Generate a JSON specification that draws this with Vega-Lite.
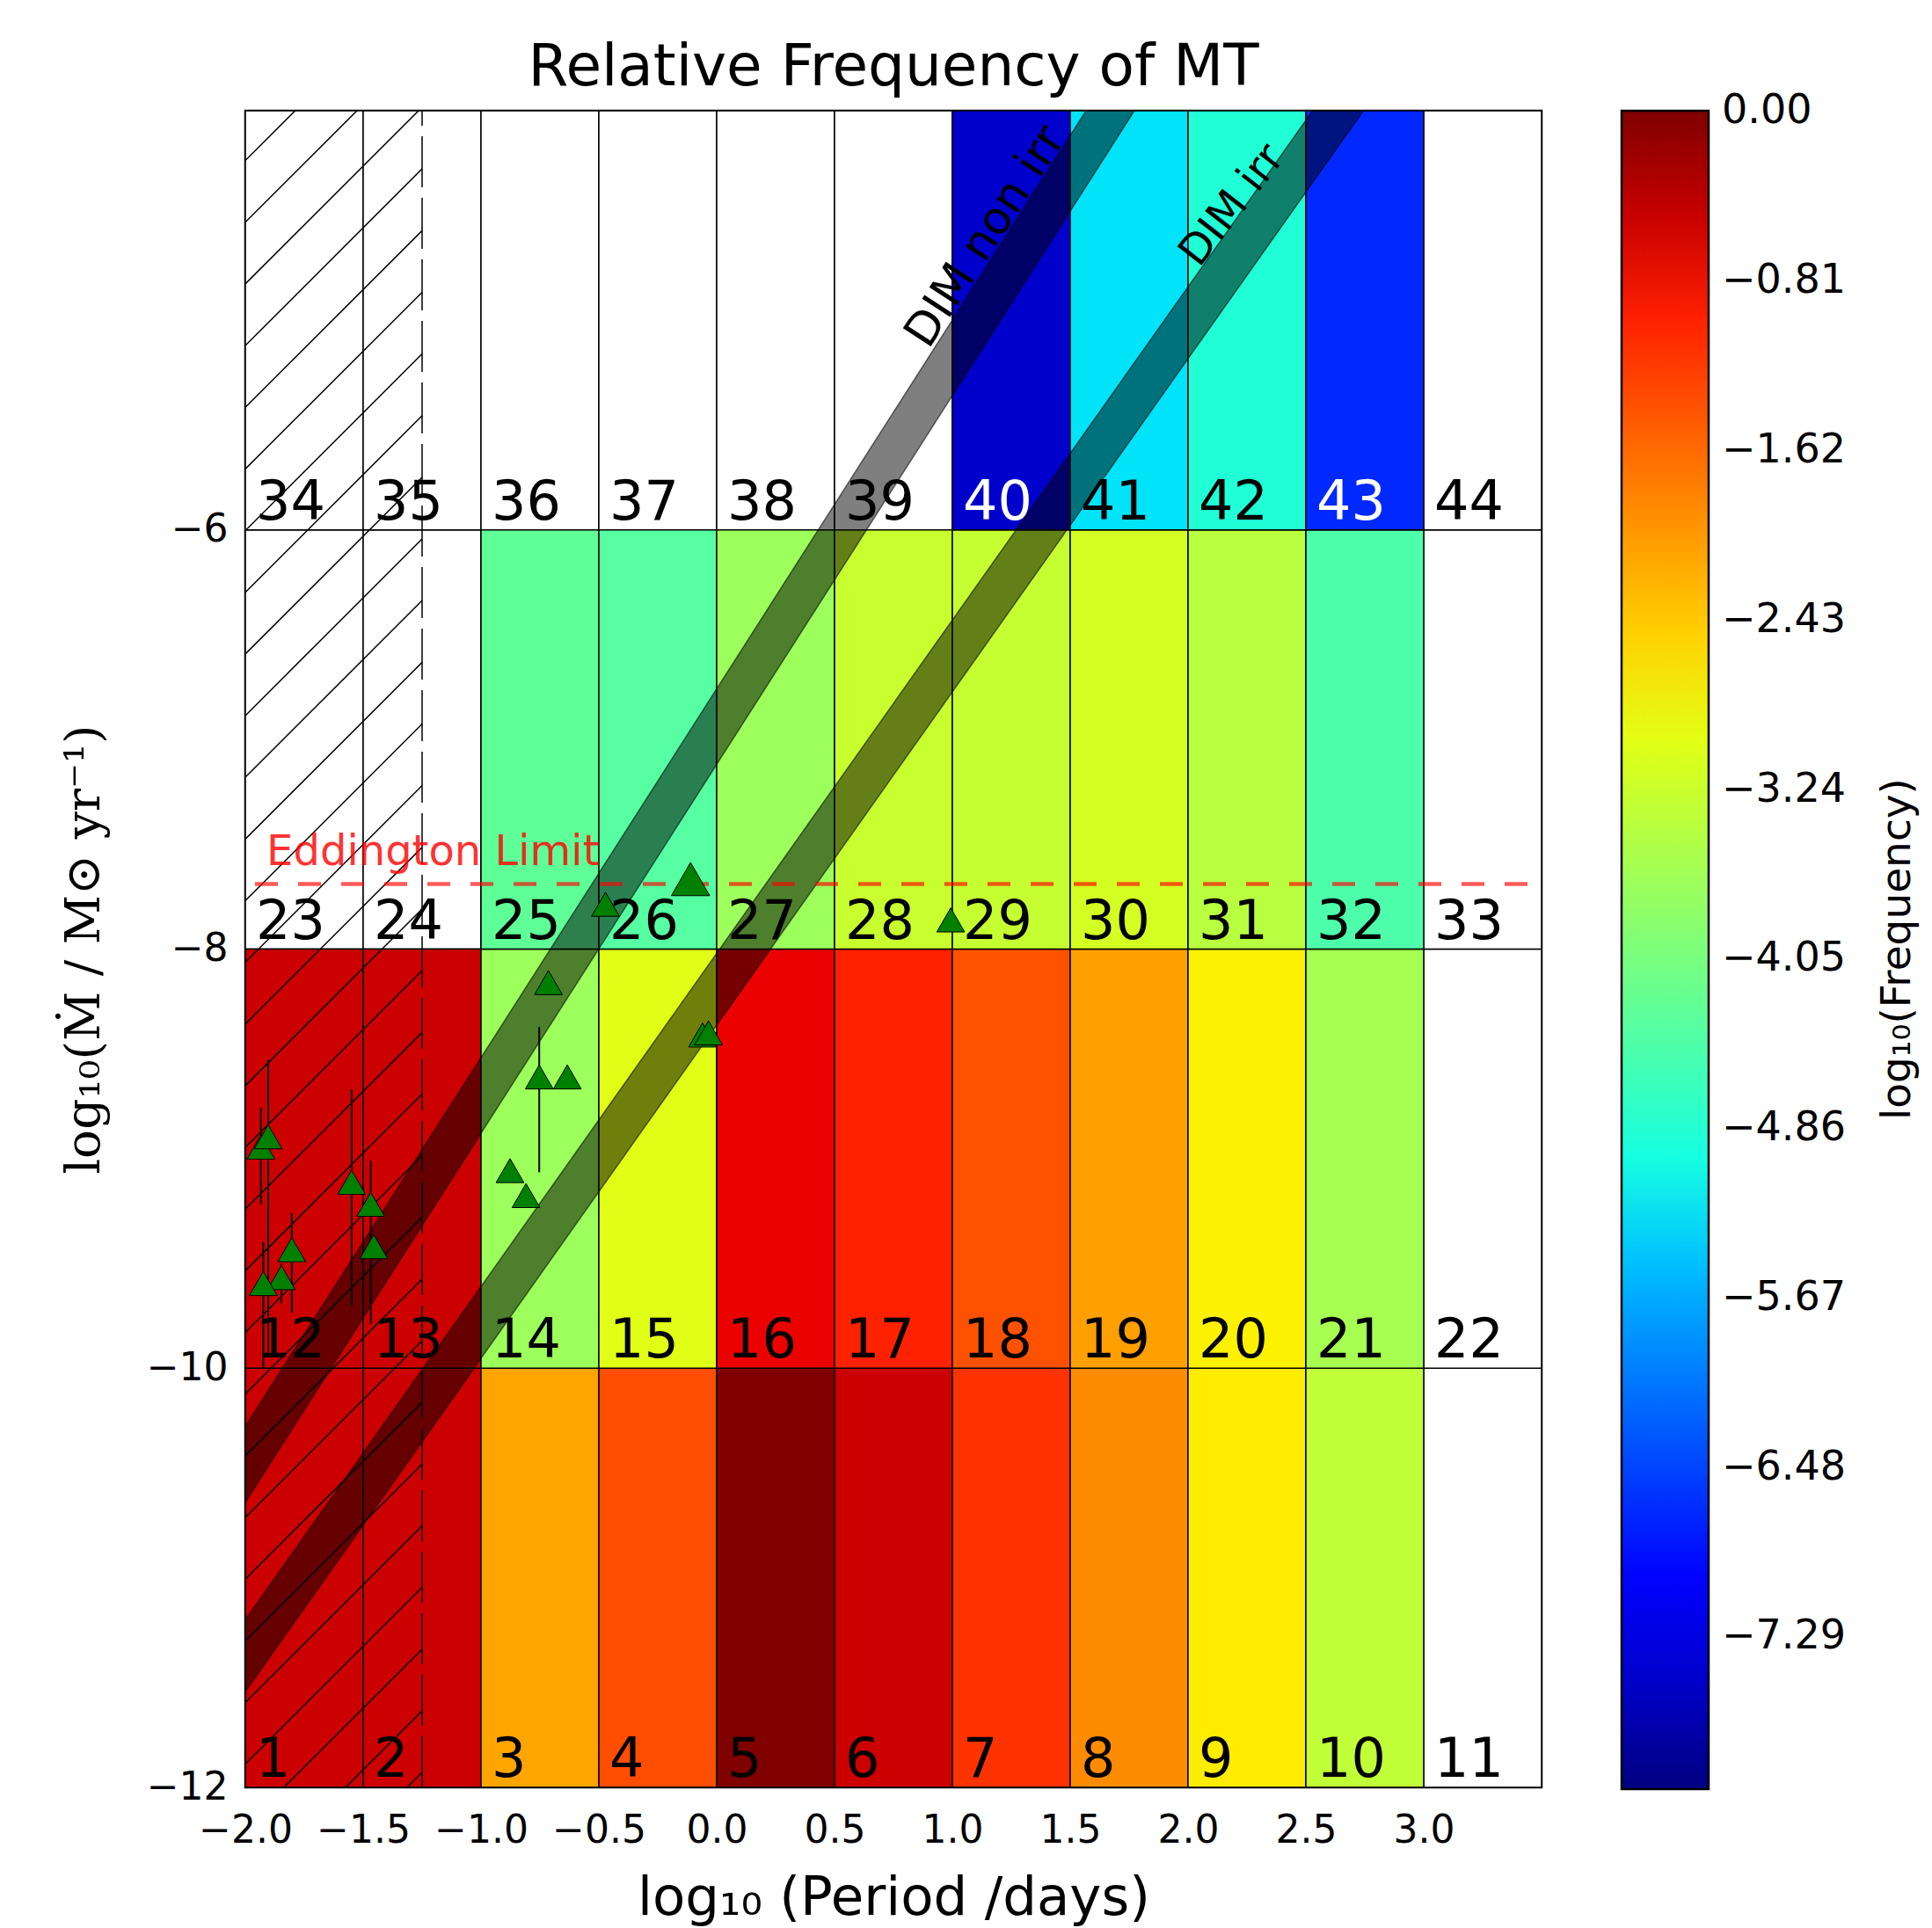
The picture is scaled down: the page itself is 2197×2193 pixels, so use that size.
{
  "$schema": "https://vega.github.io/schema/vega-lite/v6.json",
  "width": 1474,
  "height": 1907,
  "autosize": {"type": "none"},
  "padding": {"left": 279, "top": 126, "right": 444, "bottom": 160},
  "background": "white",
  "config": {
    "view": {"stroke": "black", "strokeWidth": 2.5},
    "font": "DejaVu Sans"
  },
  "title": {
    "text": "Relative Frequency of MT",
    "fontSize": 66,
    "fontWeight": "normal",
    "font": "DejaVu Sans",
    "color": "black",
    "anchor": "middle",
    "frame": "group",
    "baseline": "alphabetic",
    "offset": -38
  },
  "datasets": {
    "cells": [
      {"id": 1, "x": -2.0, "x2": -1.5, "y": -12, "y2": -10, "v": -0.53},
      {"id": 2, "x": -1.5, "x2": -1.0, "y": -12, "y2": -10, "v": -0.53},
      {"id": 3, "x": -1.0, "x2": -0.5, "y": -12, "y2": -10, "v": -2.125},
      {"id": 4, "x": -0.5, "x2": 0.0, "y": -12, "y2": -10, "v": -1.38},
      {"id": 5, "x": 0.0, "x2": 0.5, "y": -12, "y2": -10, "v": 0.0},
      {"id": 6, "x": 0.5, "x2": 1.0, "y": -12, "y2": -10, "v": -0.53},
      {"id": 7, "x": 1.0, "x2": 1.5, "y": -12, "y2": -10, "v": -1.155},
      {"id": 8, "x": 1.5, "x2": 2.0, "y": -12, "y2": -10, "v": -1.913},
      {"id": 9, "x": 2.0, "x2": 2.5, "y": -12, "y2": -10, "v": -2.73},
      {"id": 10, "x": 2.5, "x2": 3.0, "y": -12, "y2": -10, "v": -3.35},
      {"id": 11, "x": 3.0, "x2": 3.5, "y": -12, "y2": -10, "v": null},
      {"id": 12, "x": -2.0, "x2": -1.5, "y": -10, "y2": -8, "v": -0.53},
      {"id": 13, "x": -1.5, "x2": -1.0, "y": -10, "y2": -8, "v": -0.53},
      {"id": 14, "x": -1.0, "x2": -0.5, "y": -10, "y2": -8, "v": -3.70},
      {"id": 15, "x": -0.5, "x2": 0.0, "y": -10, "y2": -8, "v": -3.02},
      {"id": 16, "x": 0.0, "x2": 0.5, "y": -10, "y2": -8, "v": -0.74},
      {"id": 17, "x": 0.5, "x2": 1.0, "y": -10, "y2": -8, "v": -1.00},
      {"id": 18, "x": 1.0, "x2": 1.5, "y": -10, "y2": -8, "v": -1.42},
      {"id": 19, "x": 1.5, "x2": 2.0, "y": -10, "y2": -8, "v": -2.085},
      {"id": 20, "x": 2.0, "x2": 2.5, "y": -10, "y2": -8, "v": -2.77},
      {"id": 21, "x": 2.5, "x2": 3.0, "y": -10, "y2": -8, "v": -3.60},
      {"id": 22, "x": 3.0, "x2": 3.5, "y": -10, "y2": -8, "v": null},
      {"id": 23, "x": -2.0, "x2": -1.5, "y": -8, "y2": -6, "v": null},
      {"id": 24, "x": -1.5, "x2": -1.0, "y": -8, "y2": -6, "v": null},
      {"id": 25, "x": -1.0, "x2": -0.5, "y": -8, "y2": -6, "v": -4.29},
      {"id": 26, "x": -0.5, "x2": 0.0, "y": -8, "y2": -6, "v": -4.39},
      {"id": 27, "x": 0.0, "x2": 0.5, "y": -8, "y2": -6, "v": -3.70},
      {"id": 28, "x": 0.5, "x2": 1.0, "y": -8, "y2": -6, "v": -3.27},
      {"id": 29, "x": 1.0, "x2": 1.5, "y": -8, "y2": -6, "v": -3.29},
      {"id": 30, "x": 1.5, "x2": 2.0, "y": -8, "y2": -6, "v": -3.15},
      {"id": 31, "x": 2.0, "x2": 2.5, "y": -8, "y2": -6, "v": -3.42},
      {"id": 32, "x": 2.5, "x2": 3.0, "y": -8, "y2": -6, "v": -4.47},
      {"id": 33, "x": 3.0, "x2": 3.5, "y": -8, "y2": -6, "v": null},
      {"id": 34, "x": -2.0, "x2": -1.5, "y": -6, "y2": -4, "v": null},
      {"id": 35, "x": -1.5, "x2": -1.0, "y": -6, "y2": -4, "v": null},
      {"id": 36, "x": -1.0, "x2": -0.5, "y": -6, "y2": -4, "v": null},
      {"id": 37, "x": -0.5, "x2": 0.0, "y": -6, "y2": -4, "v": null},
      {"id": 38, "x": 0.0, "x2": 0.5, "y": -6, "y2": -4, "v": null},
      {"id": 39, "x": 0.5, "x2": 1.0, "y": -6, "y2": -4, "v": null},
      {"id": 40, "x": 1.0, "x2": 1.5, "y": -6, "y2": -4, "v": -7.49},
      {"id": 41, "x": 1.5, "x2": 2.0, "y": -6, "y2": -4, "v": -5.23},
      {"id": 42, "x": 2.0, "x2": 2.5, "y": -6, "y2": -4, "v": -4.90},
      {"id": 43, "x": 2.5, "x2": 3.0, "y": -6, "y2": -4, "v": -6.70},
      {"id": 44, "x": 3.0, "x2": 3.5, "y": -6, "y2": -4, "v": null}
    ],
    "hatch": [
      {"x": -2, "y": -4.237, "x2": -1.25, "y2": -3.394},
      {"x": -2, "y": -4.532, "x2": -1.25, "y2": -3.689},
      {"x": -2, "y": -4.826, "x2": -1.25, "y2": -3.983},
      {"x": -2, "y": -5.120, "x2": -1.25, "y2": -4.277},
      {"x": -2, "y": -5.415, "x2": -1.25, "y2": -4.572},
      {"x": -2, "y": -5.709, "x2": -1.25, "y2": -4.866},
      {"x": -2, "y": -6.003, "x2": -1.25, "y2": -5.160},
      {"x": -2, "y": -6.298, "x2": -1.25, "y2": -5.455},
      {"x": -2, "y": -6.592, "x2": -1.25, "y2": -5.749},
      {"x": -2, "y": -6.886, "x2": -1.25, "y2": -6.043},
      {"x": -2, "y": -7.180, "x2": -1.25, "y2": -6.337},
      {"x": -2, "y": -7.475, "x2": -1.25, "y2": -6.632},
      {"x": -2, "y": -7.769, "x2": -1.25, "y2": -6.926},
      {"x": -2, "y": -8.063, "x2": -1.25, "y2": -7.220},
      {"x": -2, "y": -8.358, "x2": -1.25, "y2": -7.515},
      {"x": -2, "y": -8.652, "x2": -1.25, "y2": -7.809},
      {"x": -2, "y": -8.946, "x2": -1.25, "y2": -8.103},
      {"x": -2, "y": -9.241, "x2": -1.25, "y2": -8.398},
      {"x": -2, "y": -9.535, "x2": -1.25, "y2": -8.692},
      {"x": -2, "y": -9.829, "x2": -1.25, "y2": -8.986},
      {"x": -2, "y": -10.123, "x2": -1.25, "y2": -9.280},
      {"x": -2, "y": -10.418, "x2": -1.25, "y2": -9.575},
      {"x": -2, "y": -10.712, "x2": -1.25, "y2": -9.869},
      {"x": -2, "y": -11.006, "x2": -1.25, "y2": -10.163},
      {"x": -2, "y": -11.301, "x2": -1.25, "y2": -10.458},
      {"x": -2, "y": -11.595, "x2": -1.25, "y2": -10.752},
      {"x": -2, "y": -11.889, "x2": -1.25, "y2": -11.046},
      {"x": -2, "y": -12.184, "x2": -1.25, "y2": -11.341},
      {"x": -2, "y": -12.478, "x2": -1.25, "y2": -11.635},
      {"x": -2, "y": -12.772, "x2": -1.25, "y2": -11.929}
    ],
    "bands": [
      {"band": "non irr", "x": -2.1, "y": -10.454, "y2": -10.815},
      {"band": "non irr", "x": 2.0, "y": -3.238, "y2": -3.599},
      {"band": "irr", "x": -2.1, "y": -11.359, "y2": -11.702},
      {"band": "irr", "x": 3.0, "y": -3.250, "y2": -3.593}
    ],
    "obs": [
      {"x": -1.934, "y": -8.945, "lo": -9.218, "hi": -8.757, "g": "s"},
      {"x": -1.903, "y": -8.896, "lo": -9.94, "hi": -8.53, "g": "s"},
      {"x": -1.549, "y": -9.113, "lo": -9.70, "hi": -8.67, "g": "s"},
      {"x": -1.468, "y": -9.218, "lo": -9.79, "hi": -9.01, "g": "s"},
      {"x": -1.455, "y": -9.420, "lo": null, "hi": null, "g": "s"},
      {"x": -1.803, "y": -9.435, "lo": -9.734, "hi": -9.26, "g": "s"},
      {"x": -1.847, "y": -9.568, "lo": -9.69, "hi": -9.50, "g": "s"},
      {"x": -1.924, "y": -9.596, "lo": -10.0, "hi": -9.40, "g": "s"},
      {"x": -0.753, "y": -8.610, "lo": -9.065, "hi": -8.372, "g": "s"},
      {"x": -0.634, "y": -8.610, "lo": null, "hi": null, "g": "s"},
      {"x": -0.877, "y": -9.057, "lo": null, "hi": null, "g": "s"},
      {"x": -0.809, "y": -9.176, "lo": null, "hi": null, "g": "s"},
      {"x": -0.060, "y": -8.410, "lo": null, "hi": null, "g": "s"},
      {"x": -0.035, "y": -8.400, "lo": null, "hi": null, "g": "s"},
      {"x": -0.714, "y": -8.160, "lo": null, "hi": null, "g": "s"},
      {"x": -0.472, "y": -7.786, "lo": null, "hi": null, "g": "s"},
      {"x": -0.111, "y": -7.666, "lo": null, "hi": null, "g": "b"},
      {"x": 0.993, "y": -7.861, "lo": null, "hi": null, "g": "s"}
    ]
  },
  "encoding": {
    "x": {
      "field": "x",
      "type": "quantitative",
      "scale": {"domain": [-2, 3.5], "nice": false, "zero": false},
      "axis": {
        "values": [-2, -1.5, -1, -0.5, 0, 0.5, 1, 1.5, 2, 2.5, 3],
        "format": ".1f",
        "grid": false,
        "ticks": false,
        "tickSize": 0,
        "domain": false,
        "labelFont": "DejaVu Sans",
        "labelFontSize": 44,
        "labelColor": "black",
        "labelPadding": 27,
        "labelFlush": false,
        "labelOverlap": false,
        "title": "log₁₀ (Period /days)",
        "titleFont": "DejaVu Sans",
        "titleFontSize": 61,
        "titleFontWeight": "normal",
        "titleColor": "black",
        "titleX": 737,
        "titleY": 126,
        "titleBaseline": "middle",
        "titleAlign": "center"
      }
    },
    "y": {
      "field": "y",
      "type": "quantitative",
      "scale": {"domain": [-12, -4], "nice": false, "zero": false},
      "axis": {
        "values": [-12, -10, -8, -6],
        "format": "d",
        "grid": false,
        "ticks": false,
        "tickSize": 0,
        "domain": false,
        "labelFont": "DejaVu Sans",
        "labelFontSize": 44,
        "labelColor": "black",
        "labelPadding": 20,
        "labelFlush": false,
        "labelOverlap": false,
        "title": "log₁₀(Ṁ / M⊙ yr⁻¹)",
        "titleFont": "DejaVu Serif",
        "titleFontSize": 55,
        "titleFontWeight": "normal",
        "titleColor": "black",
        "titleX": -184,
        "titleY": 953.5,
        "titleAngle": -90,
        "titleBaseline": "middle",
        "titleAlign": "center"
      }
    }
  },
  "layer": [
    {
      "data": {"name": "cells"},
      "mark": {"type": "rect", "fill": "white", "stroke": "black", "strokeWidth": 1.5},
      "encoding": {
        "x2": {"field": "x2"},
        "y2": {"field": "y2"}
      }
    },
    {
      "data": {"name": "cells"},
      "transform": [{"filter": "datum.v != null"}],
      "mark": {"type": "rect", "stroke": "black", "strokeWidth": 1.5, "opacity": 1},
      "encoding": {
        "x2": {"field": "x2"},
        "y2": {"field": "y2"},
        "fill": {
          "field": "v",
          "type": "quantitative",
          "scale": {
            "type": "linear",
            "domain": [-8.02, -7.1378, -7.0175, -5.2932, -5.213, -5.0125, -2.8872, -2.807, -2.7268, -0.8822, -0.7218, 0.002],
            "range": ["#000080", "#0000ff", "#0000ff", "#00dbff", "#00e6f7", "#15ffe2", "#efff08", "#f7f600", "#ffec00", "#ff1300", "#e80000", "#800000"],
            "interpolate": "rgb"
          },
          "legend": {
            "orient": "none",
            "legendX": 1565,
            "legendY": 0,
            "direction": "vertical",
            "gradientLength": 1909,
            "gradientThickness": 99,
            "gradientStrokeColor": "black",
            "gradientStrokeWidth": 2.5,
            "values": [0, -0.81, -1.62, -2.43, -3.24, -4.05, -4.86, -5.67, -6.48, -7.29],
            "format": ".2f",
            "labelFont": "DejaVu Sans",
            "labelFontSize": 46,
            "labelColor": "black",
            "labelOffset": 15,
            "labelLimit": 400,
            "labelOverlap": false,
            "title": null
          }
        }
      }
    },
    {
      "data": {"name": "hatch"},
      "mark": {"type": "rule", "stroke": "black", "strokeWidth": 1.5, "clip": true},
      "encoding": {
        "x2": {"field": "x2"},
        "y2": {"field": "y2"}
      }
    },
    {
      "data": {"values": [{"x": -1.25, "y": -12, "y2": -4}]},
      "mark": {"type": "rule", "stroke": "black", "strokeWidth": 1.5, "strokeDash": [58, 12]},
      "encoding": {
        "y2": {"field": "y2"}
      }
    },
    {
      "data": {"name": "bands"},
      "mark": {"type": "area", "fill": "black", "fillOpacity": 0.5, "stroke": "black", "strokeOpacity": 0.55, "strokeWidth": 1.5, "clip": true},
      "encoding": {
        "y2": {"field": "y2"},
        "detail": {"field": "band"}
      }
    },
    {
      "data": {"values": [{"x": -2, "x2": 3.5, "y": -7.69}]},
      "mark": {"type": "rule", "stroke": "red", "strokeOpacity": 0.65, "strokeWidth": 4.5, "strokeDash": [26, 23], "strokeDashOffset": 38},
      "encoding": {
        "x2": {"field": "x2"}
      }
    },
    {
      "data": {"name": "obs"},
      "transform": [{"filter": "datum.lo != null"}],
      "mark": {"type": "rule", "stroke": "black", "strokeWidth": 2},
      "encoding": {
        "y": {"field": "lo", "type": "quantitative"},
        "y2": {"field": "hi"}
      }
    },
    {
      "data": {"name": "obs"},
      "mark": {"type": "point", "shape": "triangle-up", "filled": true, "fill": "#008000", "stroke": "black", "strokeWidth": 1, "opacity": 1},
      "encoding": {
        "size": {"field": "g", "type": "nominal", "scale": {"domain": ["s", "b"], "range": [1000, 1900]}, "legend": null}
      }
    },
    {
      "data": {"name": "cells"},
      "mark": {"type": "text", "align": "left", "baseline": "alphabetic", "dx": 12, "dy": -12, "font": "DejaVu Sans", "fontSize": 62},
      "encoding": {
        "text": {"field": "id"},
        "color": {"condition": {"test": "datum.v != null && datum.v < -6", "value": "white"}, "value": "black"}
      }
    },
    {
      "data": {"values": [{"x": -1.91, "y": -7.60, "t": "Eddington Limit"}]},
      "mark": {"type": "text", "align": "left", "baseline": "alphabetic", "font": "DejaVu Sans", "fontSize": 48, "color": "red", "opacity": 0.8},
      "encoding": {"text": {"field": "t"}}
    },
    {
      "data": {"values": [{"x": 1.14, "y": -4.60, "t": "DIM non irr"}]},
      "mark": {"type": "text", "align": "center", "baseline": "middle", "angle": -57, "font": "DejaVu Sans", "fontSize": 52, "color": "black"},
      "encoding": {"text": {"field": "t"}}
    },
    {
      "data": {"values": [{"x": 2.189, "y": -4.453, "t": "DIM irr"}]},
      "mark": {"type": "text", "align": "center", "baseline": "middle", "angle": -52, "font": "DejaVu Sans", "fontSize": 48, "color": "black"},
      "encoding": {"text": {"field": "t"}}
    },
    {
      "data": {"values": [{"x": 5.01, "y": -8.0, "t": "log₁₀(Frequency)"}]},
      "mark": {"type": "text", "align": "center", "baseline": "middle", "angle": 270, "font": "DejaVu Sans", "fontSize": 47, "color": "black", "clip": false},
      "encoding": {"text": {"field": "t"}}
    }
  ]
}
